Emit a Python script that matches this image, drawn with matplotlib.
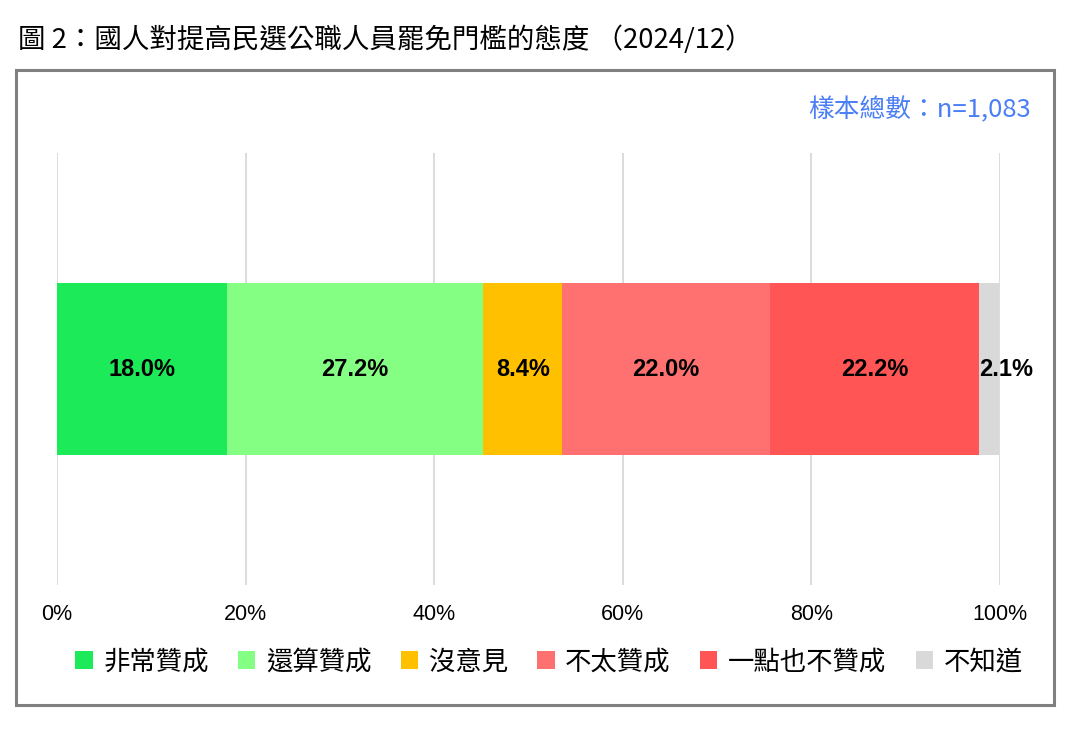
import matplotlib
matplotlib.use("Agg")
import matplotlib.pyplot as plt
from matplotlib.patches import Rectangle

plt.rcParams['font.family'] = ['Liberation Sans', 'Noto Sans CJK TC', 'DejaVu Sans']

categories = ['非常贊成', '還算贊成', '沒意見', '不太贊成', '一點也不贊成', '不知道']
values = [18.0, 27.2, 8.4, 22.0, 22.2, 2.1]
colors = ['#1dea58', '#84ff84', '#ffc000', '#ff7070', '#ff5555', '#d9d9d9']
xticks = [0, 20, 40, 60, 80, 100]
xtick_labels = ['0%', '20%', '40%', '60%', '80%', '100%']
title = '圖 2：國人對提高民選公職人員罷免門檻的態度 （2024/12）'
sample_note = '樣本總數：n=1,083'

W, H = 1071, 730
fig = plt.figure(figsize=(W / 100, H / 100), dpi=100)

# outer frame
fig.patches.append(Rectangle((16 / W, (H - 705) / H), (1054 - 16) / W, (705 - 70) / H,
                             transform=fig.transFigure, fill=False,
                             edgecolor='#808080', linewidth=2.2))

fig.text(18 / W, 1 - 40 / H, title, fontsize=19.8, family=['Noto Sans CJK TC'],
         va='center', ha='left', color='black')
fig.text(1031 / W, 1 - 110 / H, sample_note, fontsize=18.5, family=['Noto Sans CJK TC', 'Liberation Sans'],
         va='center', ha='right', color='#4a7ef5', fontweight='medium')

ax = fig.add_axes([57 / W, (H - 585) / H, 943 / W, (585 - 153) / H])
ax.set_xlim(0, 100)
ax.set_ylim(0, 1)
for x in xticks:
    ax.axvline(x, color='#d9d9d9', linewidth=1.3, zorder=0)

left = 0
for cat, v, c in zip(categories, values, colors):
    ax.barh(0.5, v, left=left, height=0.4, color=c, label=cat, zorder=2)
    xpos = left + v / 2 if v > 5 else left + v + 0.7
    ax.text(xpos, 0.5, f'{v:.1f}%', ha='center', va='center',
            fontsize=17, fontweight='bold', color='black', zorder=3,
            family=['Liberation Sans'])
    left += v

for s in ax.spines.values():
    s.set_visible(False)
ax.set_yticks([])
ax.set_xticks(xticks)
ax.set_xticklabels(xtick_labels, fontsize=15.5, family=['Liberation Sans'])
ax.tick_params(axis='x', length=0, pad=14)

handles, labels = ax.get_legend_handles_labels()
leg = fig.legend(handles, labels, loc='center', bbox_to_anchor=(549 / W, 1 - 662 / H),
                 ncol=6, frameon=False, handlelength=0.65, handleheight=0.65,
                 handletextpad=0.4, columnspacing=1.12,
                 prop={'family': ['Noto Sans CJK TC'], 'size': 19})

fig.savefig('out.png', dpi=100)
